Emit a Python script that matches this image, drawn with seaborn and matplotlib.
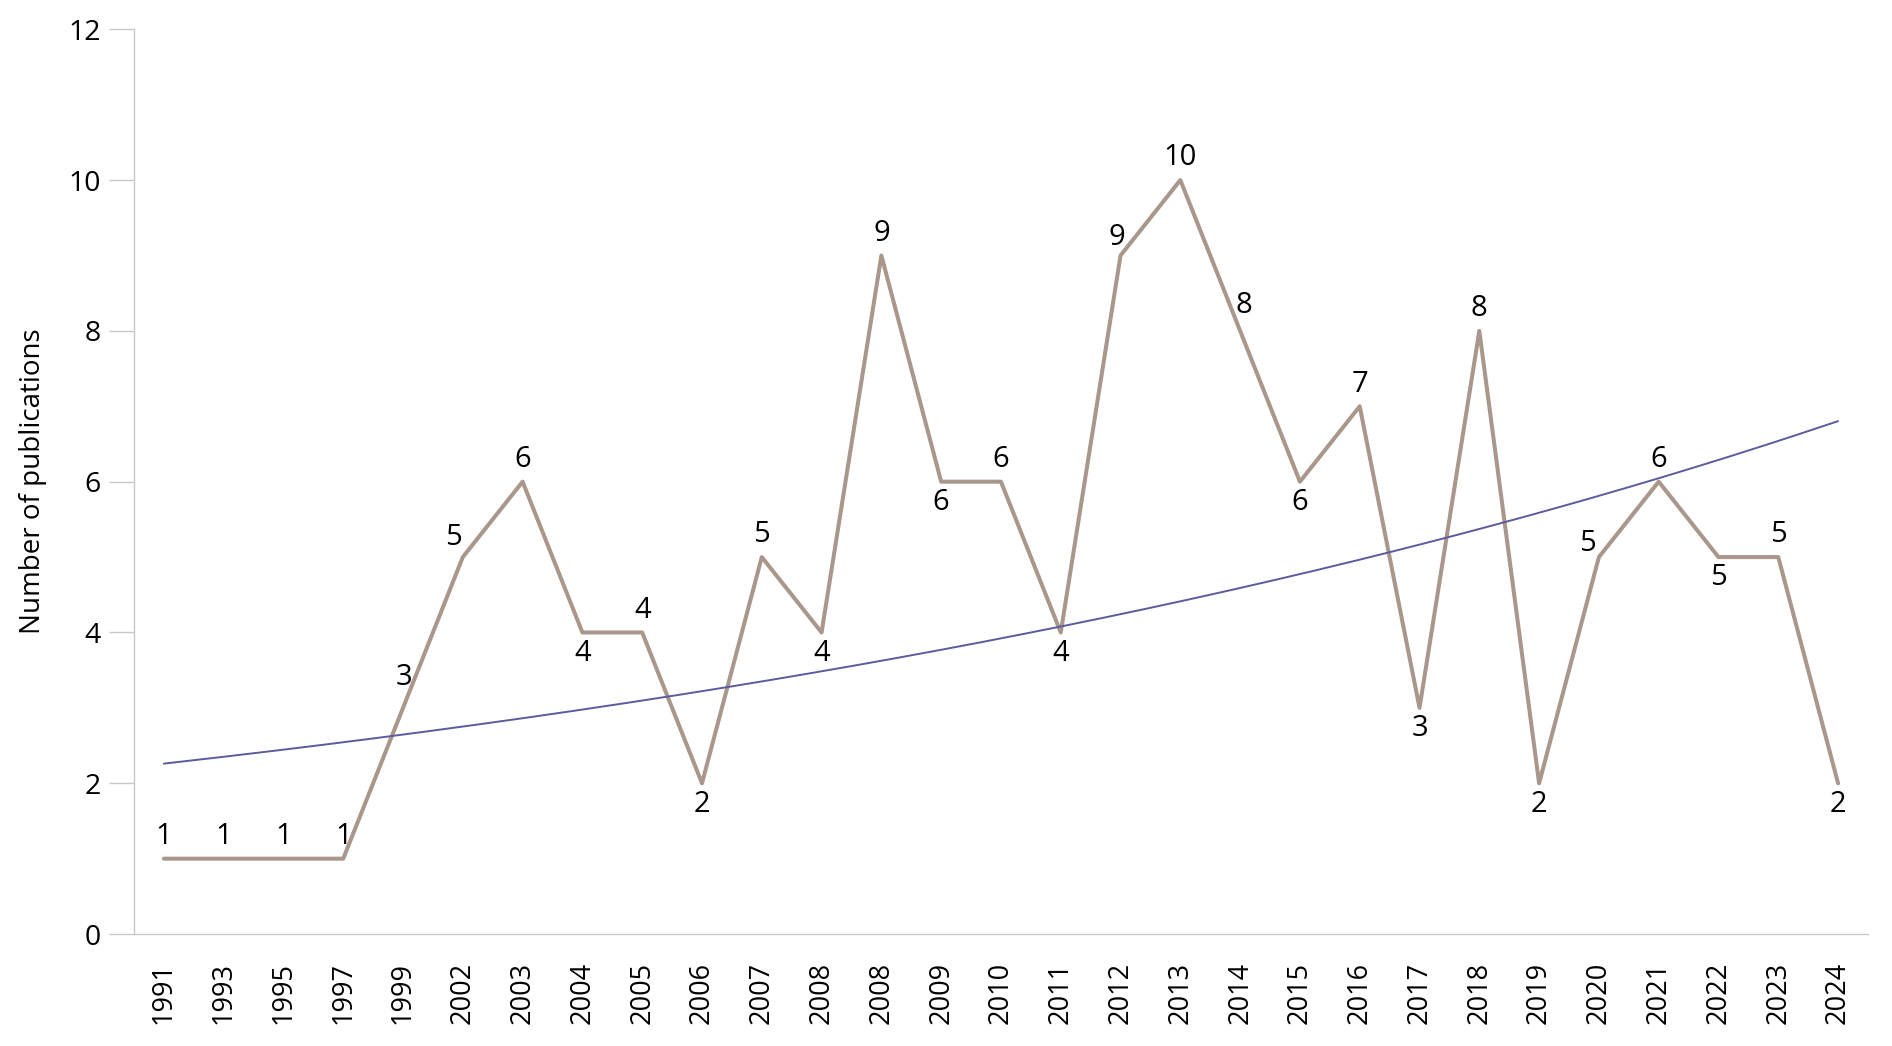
import numpy as np
import pandas as pd
import seaborn as sns
import matplotlib.pyplot as plt

years = ["1991", "1993", "1995", "1997", "1999", "2002", "2003", "2004", "2005",
         "2006", "2007", "2008", "2008", "2009", "2010", "2011", "2012", "2013",
         "2014", "2015", "2016", "2017", "2018", "2019", "2020", "2021", "2022",
         "2023", "2024"]
publications = [1, 1, 1, 1, 3, 5, 6, 4, 4, 2, 5, 4, 9, 6, 6, 4, 9, 10, 8, 6, 7,
                3, 8, 2, 5, 6, 5, 5, 2]
y_ticks = [0, 2, 4, 6, 8, 10, 12]

# where each value label sits relative to its point (offset in points)
label_pos = ["a", "a", "a", "a", "a3", "al", "a", "b", "a", "b", "a", "b", "a",
             "b", "a", "b", "a9", "a", "ar", "b", "a", "b", "a", "b", "a5", "a",
             "b", "a", "b"]
offsets = {"a": (0, 16), "b": (0, -15), "a3": (1, 22), "al": (-7, 14),
           "a9": (-3, 13), "ar": (3, 18), "a5": (-8, 10)}

df = pd.DataFrame({"idx": np.arange(len(years)), "year": years, "n": publications})

# exponential trend line (fit on log values, like a spreadsheet trendline)
b, a = np.polyfit(df["idx"], np.log(df["n"]), 1)
trend_x = np.linspace(0, len(years) - 1, 200)
trend = pd.DataFrame({"x": trend_x, "y": np.exp(a + b * trend_x)})

sns.set_theme(style="white")
plt.rcParams["font.family"] = ["Open Sans", "DejaVu Sans"]

fig = plt.figure(figsize=(18.92, 10.46), dpi=100)
ax = fig.add_axes([0.0708, 0.107, 0.9165, 0.865])

sns.lineplot(data=df, x="idx", y="n", color="#a8978a", linewidth=2.9, sort=False, ax=ax)
sns.lineplot(data=trend, x="x", y="y", color="#5b5b9e", linewidth=1.4, ax=ax)

for i, v in enumerate(publications):
    dx, dy = offsets[label_pos[i]]
    ax.annotate(str(v), (i, v), xytext=(dx, dy), textcoords="offset points",
                ha="center", va="center", fontsize=21, color="black")

ax.set_xlim(-0.5, len(years) - 0.5)
ax.set_ylim(0, 12)
ax.set_xticks(df["idx"])
ax.set_xticklabels(years, rotation=90, fontsize=19.5, color="black")
ax.set_yticks(y_ticks)
ax.set_yticklabels([str(t) for t in y_ticks], fontsize=20.5, color="black")
ax.tick_params(axis="y", length=18, width=1, color="#c8c8c8", pad=6, left=True)
ax.tick_params(axis="x", length=0, pad=20)

ax.set_xlabel("")
ax.set_ylabel("Number of publications", fontsize=20, color="black")
ax.yaxis.set_label_coords(-0.05, 0.5)

sns.despine(ax=ax)
for s in ["left", "bottom"]:
    ax.spines[s].set_color("#c8c8c8")
    ax.spines[s].set_linewidth(1)
ax.legend_ = None

fig.savefig("out.png", dpi=100)
